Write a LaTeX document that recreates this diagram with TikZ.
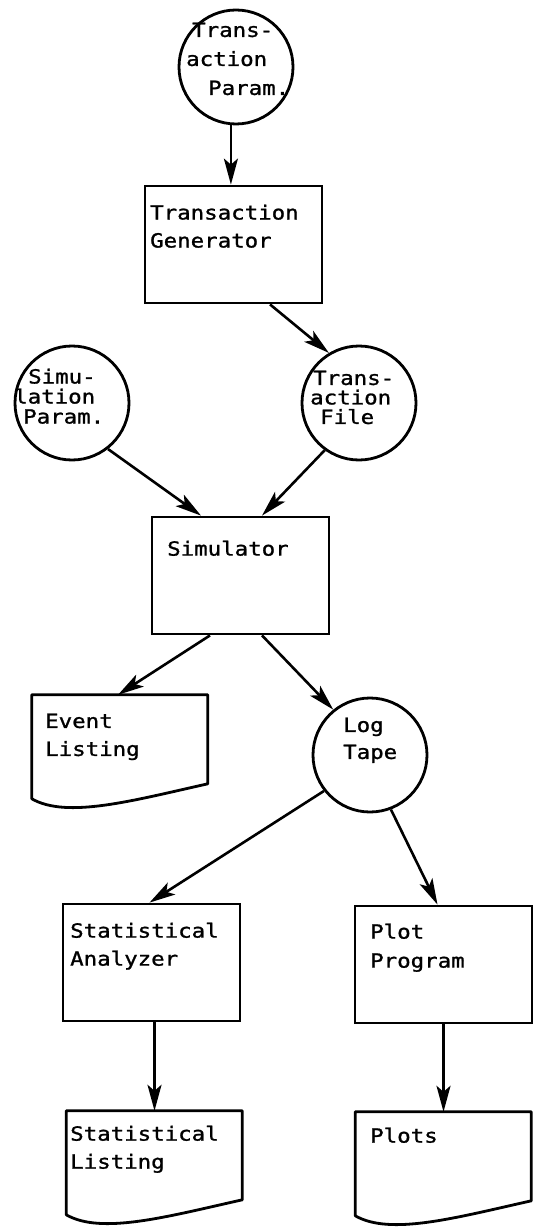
\documentclass[tikz,border=0pt]{standalone}
\usepackage{fontspec}
\newfontfamily\typer[FakeStretch=1.15, FakeBold=1.2]{DejaVu Sans Mono}
\usetikzlibrary{arrows.meta}

% outline of a printed listing, hung on an empty node
\newcommand{\docoutline}[1]{%
  \draw[line width=2.8pt, line join=round, shift={(#1.north west)}]
    (0,0) -- (176,0) -- (176,89) .. controls (100,106) and (35,124) .. (0,104) -- cycle;}

\begin{document}
\begin{tikzpicture}[x=1pt, y=-1pt,
    proc/.style={draw, rectangle, line width=2.8pt, inner sep=0pt, minimum width=177pt, minimum height=117pt},
    store/.style={draw, circle, line width=2.8pt, inner sep=0pt, minimum size=114pt},
    docu/.style={rectangle, inner sep=0pt, minimum width=176pt, minimum height=104pt},
    txt/.style={anchor=north west, inner sep=0pt, align=left, font=\typer\fontsize{19.5}{28}\selectfont},
    flow/.style={line width=2.6pt, -{Stealth[length=26pt, width=14pt, inset=6pt]}}]
  \useasboundingbox (0,0) rectangle (535,1230);

  \node[store] (tparam) at (236,67) {};
  \node[proc] (tgen) at (233.5,244.5) {};
  \node[store] (sparam) at (72,403) {};
  \node[store] (tfile) at (359,403) {};
  \node[proc] (sim) at (240.5,575.5) {};
  \node[docu] (ev) at (120,747) {};
  \node[store] (log) at (370,755) {};
  \node[proc] (stana) at (151.5,962.5) {};
  \node[proc] (plotp) at (443.5,964.5) {};
  \node[docu] (stlist) at (154.5,1163) {};
  \node[docu] (plots) at (443.5,1164) {};
  \docoutline{ev}
  \docoutline{stlist}
  \docoutline{plots}

  \node[txt, font=\typer\fontsize{19.5}{29}\selectfont] (tparamT) at (186,22.5) {\hspace*{6pt}Trans-\\action\\\hspace*{22pt}Param.};
  \node[txt] (tgenT) at (150,204.5) {Transaction\\Generator};
  \node[txt, font=\typer\fontsize{19.5}{20}\selectfont] (sparamT) at (14,368.5) {\hspace*{14pt}Simu-\\lation\\\hspace*{9pt}Param.};
  \node[txt, font=\typer\fontsize{19.5}{19.5}\selectfont] (tfileT) at (310,370.5) {\hspace*{3pt}Trans-\\action\\\hspace*{10pt}File};
  \node[txt] (simT) at (167,540.5) {Simulator};
  \node[txt] (evT) at (45,713.5) {Event\\Listing};
  \node[txt, font=\typer\fontsize{19.5}{27}\selectfont] (logT) at (343,717.5) {Log\\Tape};
  \node[txt] (stanaT) at (70,922.5) {Statistical\\Analyzer};
  \node[txt, font=\typer\fontsize{19.5}{29}\selectfont] (plotpT) at (370,923.5) {Plot\\Program};
  \node[txt] (stlistT) at (70,1125.5) {Statistical\\Listing};
  \node[txt] (plotsT) at (370,1127.5) {Plots};

  \draw[flow] (tparam.265) -- (tparam.265 |- tgen.north);
  \draw[flow] ([xshift=36.5pt]tgen.south) -- (tfile.121);
  \draw[flow] (sparam.308) -- ([xshift=-39.5pt]sim.north);
  \draw[flow] (tfile.234) -- ([xshift=21.5pt]sim.north);
  \draw[flow] ([xshift=-30.5pt]sim.south) -- ([xshift=-2pt]ev.north);
  \draw[flow] ([xshift=21.5pt]sim.south) -- (log.129);
  \draw[flow] (log.218) -- ([xshift=-2pt]stana.north);
  \draw[flow] (log.291) -- ([xshift=-6pt]plotp.north);
  \draw[flow] ([xshift=3pt]stana.south) -- (stlist.north);
  \draw[flow] (plotp.south) -- (plots.north);
\end{tikzpicture}
\end{document}
